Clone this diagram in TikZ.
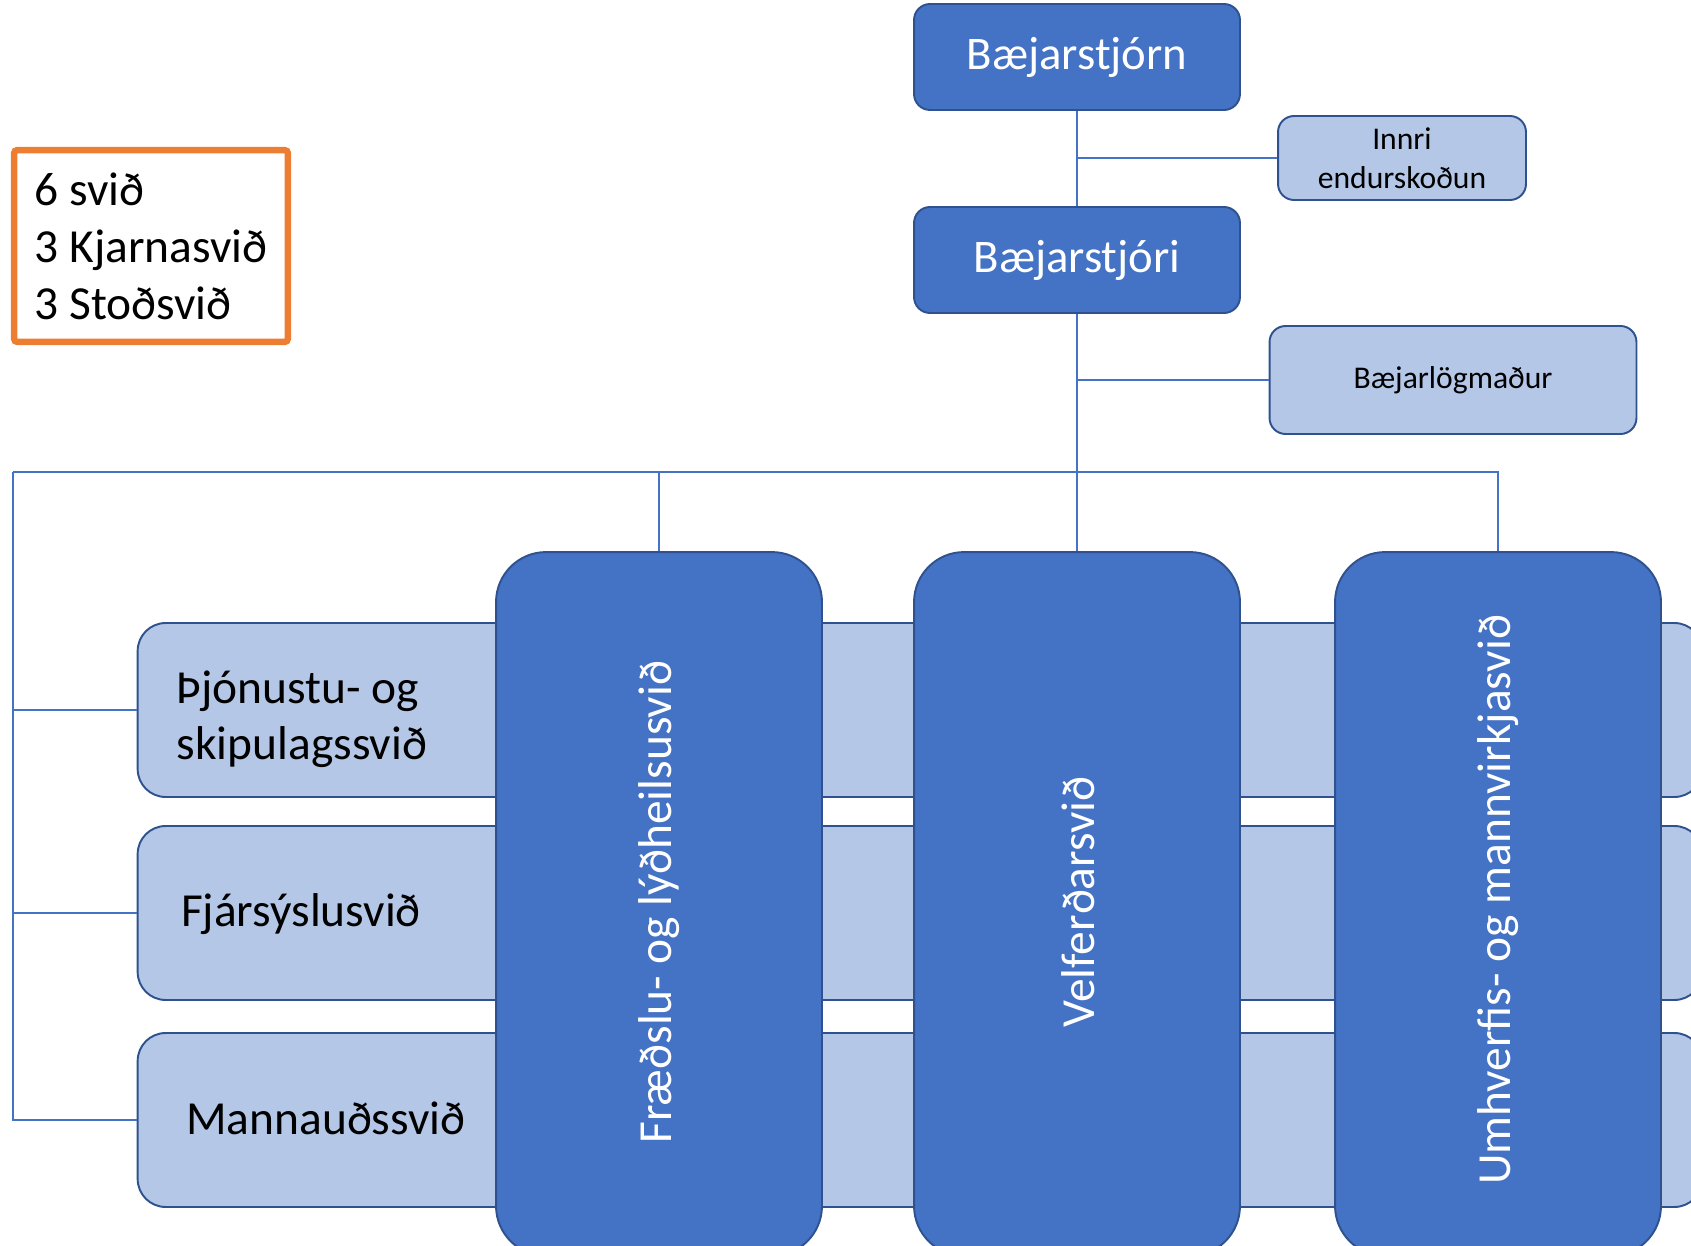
\documentclass[tikz,border=0pt]{standalone}
\usepackage{fontspec}
\setmainfont{Carlito}
\usepackage{tikz}

\definecolor{deildblue}{HTML}{4472C4}
\definecolor{deildedge}{HTML}{2F528F}
\definecolor{deildlight}{HTML}{B4C7E7}
\definecolor{boxorange}{HTML}{ED7D31}

\begin{document}
\begin{tikzpicture}[
        x=0.02cm, y=-0.02cm,
        topbox/.style={draw=deildedge, fill=deildblue, line width=1.1pt, rounded corners=0.32cm,
            minimum width=6.52cm, minimum height=2.12cm, text=white, font=\fontsize{26.6}{32}\selectfont},
        sidebox/.style={draw=deildedge, fill=deildlight, line width=1.1pt, rounded corners=0.32cm,
            align=center, font=\fontsize{18}{22}\selectfont}
        ]
    % Define styles
    \tikzstyle{barbox} = [draw=deildedge, fill=deildlight, line width=1.1pt, rounded corners=0.56cm,
        minimum width=31.3cm, minimum height=3.48cm]
    \tikzstyle{darkbox} = [draw=deildedge, fill=deildblue, line width=1.1pt, rounded corners=1cm,
        minimum width=6.52cm, minimum height=14.08cm]
    \tikzstyle{bartext} = [align=left, font=\fontsize{27}{32}\selectfont]
    \tikzstyle{vtext} = [rotate=90, text=white, font=\fontsize{27}{32}\selectfont]
    \tikzstyle{linkline} = [draw=deildblue, line width=0.8pt]

    \useasboundingbox (0, 0) rectangle (1691, 1246);
    \clip (0, 0) rectangle (1691, 1246);

    % Define summary box
    \node[draw=boxorange, line width=3.7pt, rounded corners=2pt, minimum width=5.48cm, minimum height=3.84cm,
        align=left, font=\fontsize{27}{32.5}\selectfont] (yfirlit) at (151, 246) {6 svið\\3 Kjarnasvið\\3 Stoðsvið};

    % Define top nodes
    \node[topbox] (stjorn) at (1077, 57) {Bæjarstjórn};
    \node[topbox] (stjori) at (1077, 260) {Bæjarstjóri};
    \node[sidebox, minimum width=4.96cm, minimum height=1.68cm] (innri) at (1402, 158) {Innri\\endurskoðun};
    \node[sidebox, minimum width=7.34cm, minimum height=2.16cm] (logmadur) at (1453, 380) {Bæjarlögmaður};

    % Define support divisions (bars behind)
    \node[barbox] (thjonusta) at (920, 710) {};
    \node[barbox] (fjarsysla) at (920, 913) {};
    \node[barbox] (mannaud) at (920, 1120) {};
    \node[bartext] (thjonusta-txt) at (302, 719) {Þjónustu- og\\skipulagssvið};
    \node[bartext] (fjarsysla-txt) at (301, 914) {Fjársýslusvið};
    \node[bartext] (mannaud-txt) at (326, 1118) {Mannauðssvið};

    % Define core divisions
    \node[darkbox] (fraedsla) at (659, 904) {};
    \node[darkbox] (velferd) at (1077, 904) {};
    \node[darkbox] (umhverfi) at (1498, 904) {};
    \node[vtext] (fraedsla-txt) at (659, 902) {Fræðslu- og lýðheilsusvið};
    \node[vtext] (velferd-txt) at (1078, 902) {Velferðarsvið};
    \node[vtext] (umhverfi-txt) at (1498, 900) {Umhverfis- og mannvirkjasvið};

    % Draw edges of the top part
    \draw[linkline] (stjorn.south) -- (stjori.north);
    \draw[linkline] (innri.west -| stjorn.south) -- (innri.west);
    \draw[linkline] (stjori.south) -- (velferd.north);
    \draw[linkline] (logmadur.west -| stjori.south) -- (logmadur.west);

    % Draw edges from the bus to the divisions
    \coordinate (bus) at (13, 472);
    \draw[linkline] (bus) -- (umhverfi.north |- bus) -- (umhverfi.north);
    \draw[linkline] (fraedsla.north |- bus) -- (fraedsla.north);
    \draw[linkline] (bus) |- (mannaud.west);
    \draw[linkline] (thjonusta.west -| bus) -- (thjonusta.west);
    \draw[linkline] (fjarsysla.west -| bus) -- (fjarsysla.west);

\end{tikzpicture}
\end{document}
